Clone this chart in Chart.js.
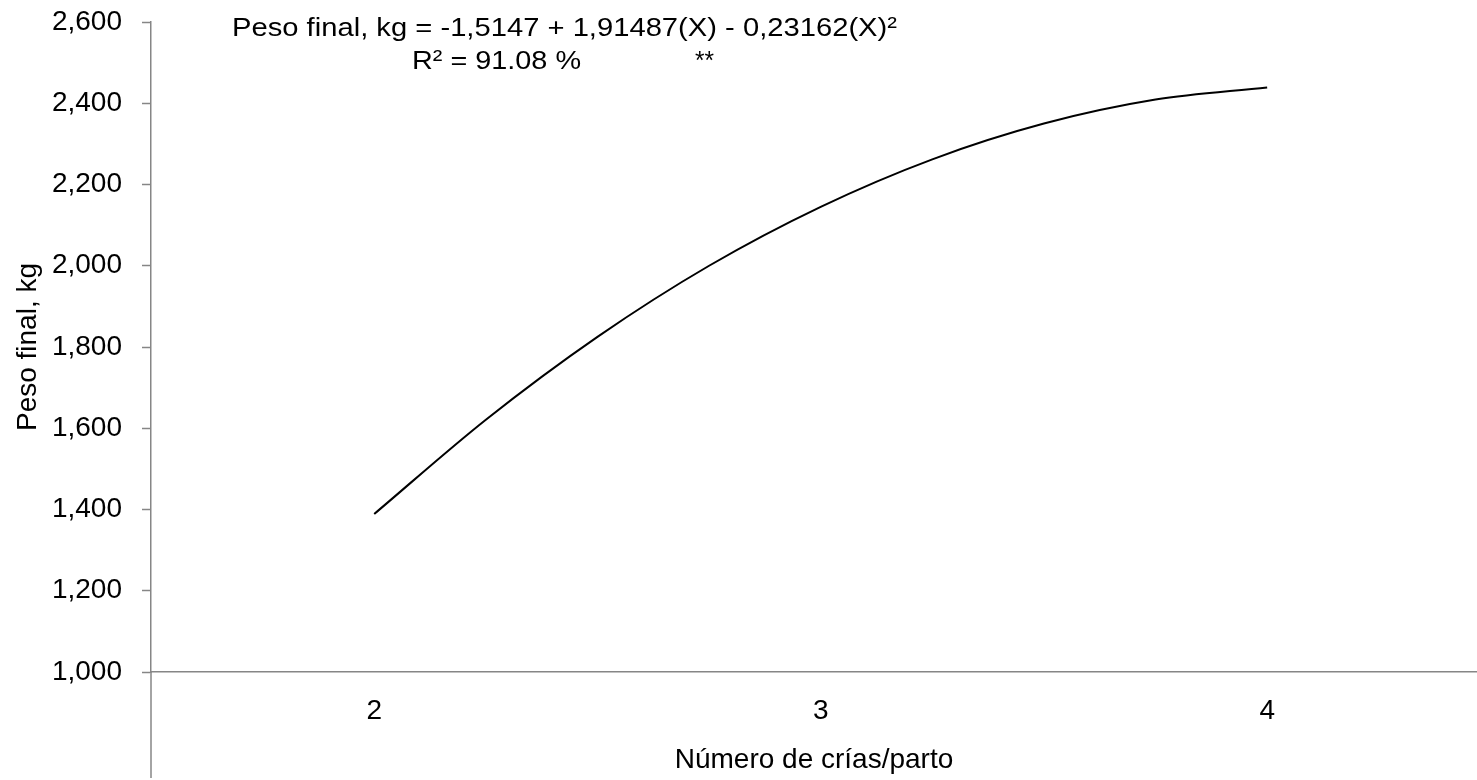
<!DOCTYPE html>
<html>
<head>
<meta charset="utf-8">
<script src="https://cdn.jsdelivr.net/npm/chart.js@4.4.1/dist/chart.umd.min.js"></script>
<style>
  html, body { margin: 0; padding: 0; background: #fff; }
  #wrap { width: 1477px; height: 780px; position: relative; }
</style>
</head>
<body>
<div id="wrap"><canvas id="c" width="1477" height="780"></canvas></div>
<script>
// Values
const xValues = [2, 2.25, 2.5, 2.75, 3, 3.25, 3.5, 3.75, 4];
const pesoFinal = [1389, 1621, 1825, 2000, 2145, 2262, 2350, 2409, 2439];
const xTickValues = [2, 3, 4];
const yTickValues = [1000, 1200, 1400, 1600, 1800, 2000, 2200, 2400, 2600];
const equationLine1 = 'Peso final, kg = -1,5147 + 1,91487(X) - 0,23162(X)²';
const equationLine2 = 'R² = 91.08 %';
const significance = '**';
const xTitle = 'Número de crías/parto';
const yTitle = 'Peso final, kg';

const AXIS = '#868686';
const FONT = "'Liberation Sans', Arial, sans-serif";

const points = xValues.map((x, i) => ({ x: x, y: pesoFinal[i] }));

function narrowText(ctx, text, x, y, width) {
  const w = ctx.measureText(text).width;
  const s = width ? width / w : 1;
  ctx.save();
  ctx.translate(x, y);
  ctx.scale(s, 1);
  ctx.fillText(text, 0, 0);
  ctx.restore();
  return s;
}

const extrasPlugin = {
  id: 'extras',
  afterDraw(chart) {
    const ctx = chart.ctx;
    const a = chart.chartArea;
    // y-axis line continues below the horizontal axis
    ctx.save();
    ctx.strokeStyle = AXIS;
    ctx.lineWidth = 1.5;
    ctx.beginPath();
    ctx.moveTo(a.left, a.bottom);
    ctx.lineTo(a.left, 778);
    ctx.stroke();
    ctx.restore();

    // equation text (narrow face)
    ctx.save();
    ctx.fillStyle = '#000';
    ctx.textBaseline = 'alphabetic';
    ctx.font = "26.5px 'Liberation Sans Narrow', 'Arial Narrow', 'Liberation Sans', sans-serif";
    narrowText(ctx, equationLine1, 232, 36, 665);
    narrowText(ctx, equationLine2, 412, 69, 169);
    narrowText(ctx, significance, 695, 69, 19);
    ctx.restore();
  }
};

new Chart(document.getElementById('c'), {
  type: 'line',
  data: {
    datasets: [{
      data: points,
      borderColor: '#000',
      borderWidth: 2,
      pointRadius: 0,
      fill: false,
      tension: 0.4,
      cubicInterpolationMode: 'monotone'
    }]
  },
  options: {
    responsive: false,
    animation: false,
    layout: { padding: { top: 22, right: 0, left: 0, bottom: 0 } },
    plugins: { legend: { display: false }, tooltip: { enabled: false } },
    scales: {
      x: {
        type: 'linear',
        min: 1.5,
        max: 4.47,
        afterBuildTicks(scale) { scale.ticks = xTickValues.map(v => ({ value: v })); },
        afterFit(scale) { scale.height = 108; scale.paddingLeft = 0; scale.paddingRight = 0; },
        grid: { display: false, drawTicks: false },
        border: { display: true, color: AXIS, width: 1.5 },
        ticks: {
          color: '#000',
          padding: 22,
          font: { family: FONT, size: 28 },
          callback: v => String(v)
        },
        title: {
          display: true,
          text: xTitle,
          color: '#000',
          font: { family: FONT, size: 28 },
          padding: { top: 0, bottom: 3 }
        }
      },
      y: {
        min: 1000,
        max: 2600,
        afterBuildTicks(scale) { scale.ticks = yTickValues.map(v => ({ value: v })); },
        afterFit(scale) { scale.width = 151; scale.paddingTop = 0; scale.paddingBottom = 0; },
        grid: { display: true, drawOnChartArea: false, drawTicks: true, tickLength: 9, color: AXIS, tickColor: AXIS, tickWidth: 1.5 },
        border: { display: true, color: AXIS, width: 1.5 },
        ticks: {
          color: '#000',
          padding: 20,
          font: { family: FONT, size: 28 },
          callback: v => v.toLocaleString('en-US')
        },
        title: {
          display: true,
          text: yTitle,
          color: '#000',
          font: { family: FONT, size: 28 },
          padding: { top: 11, bottom: 0 }
        }
      }
    }
  },
  plugins: [extrasPlugin]
});
</script>
</body>
</html>
